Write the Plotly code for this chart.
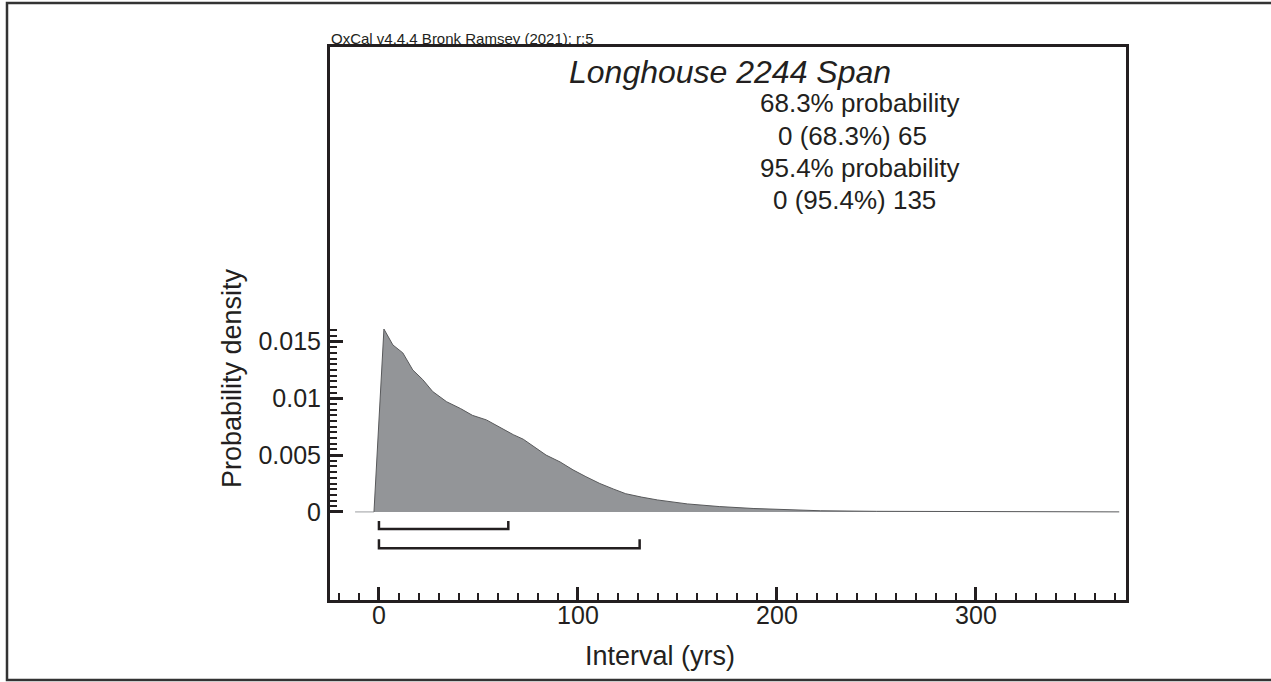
import plotly.graph_objects as go

# ---------------- data ----------------
interval_yrs = [-2.5, 2.5, 7, 12, 17, 22, 27, 34, 41, 47, 54, 61, 67.5, 72.5, 77.5,
                84, 91, 97.5, 104, 111, 118, 124, 132, 140, 155, 171, 188, 205,
                222, 250, 300, 372]
density = [0, 0.0161, 0.0147, 0.0140, 0.0125, 0.01165, 0.0106, 0.0097, 0.0091,
           0.0085, 0.0081, 0.0074, 0.0068, 0.0064, 0.0058, 0.0050, 0.0044,
           0.0037, 0.0031, 0.0025, 0.0020, 0.0016, 0.0013, 0.00105, 0.0007,
           0.00047, 0.0003, 0.0002, 0.0001, 0.00005, 0.00002, 0]
lead_in_x = [-12, -2.5]
lead_in_y = [0, 0]

range_683 = [0, 65]
range_954 = [0, 131]

x_tickvals = [0, 100, 200, 300]
y_tickvals = [0, 0.005, 0.01, 0.015]
y_ticktext = ["0", "0.005", "0.01", "0.015"]
y_minor_vals = [i * 0.0005 for i in range(0, 33)]

title_text = "Longhouse 2244 Span"
info_lines = ["68.3% probability", "0 (68.3%) 65", "95.4% probability", "0 (95.4%) 135"]
credit = "OxCal v4.4.4 Bronk Ramsey (2021); r:5"

# ---------------- layout geometry ----------------
W, H = 1271, 682
L, R, T, B = 330, 1126, 47, 600
INK = "#231f20"
FONT = "Liberation Sans, Arial, Helvetica, sans-serif"

def px(xp):
    return (xp - L) / (R - L)

def py(yp):
    return (B - yp) / (B - T)

fig = go.Figure()

fig.add_trace(go.Scatter(x=lead_in_x, y=lead_in_y, mode="lines",
                         line=dict(color="#bcbec0", width=1.5),
                         hoverinfo="skip", showlegend=False))
fig.add_trace(go.Scatter(x=interval_yrs, y=density, mode="lines",
                         fill="tozeroy", fillcolor="#939598",
                         line=dict(color="#58595b", width=1),
                         showlegend=False))

def bracket(rng, y_bar, y_top):
    lo, hi = rng
    fig.add_trace(go.Scatter(x=[lo, lo, hi, hi], y=[y_top, y_bar, y_bar, y_top],
                             mode="lines", line=dict(color=INK, width=2.5),
                             hoverinfo="skip", showlegend=False))

bracket(range_683, -0.0015, -0.0008)
bracket(range_954, -0.0032, -0.0024)

annotations = [
    dict(text="<i>" + title_text + "</i>", x=px(730), y=py(72),
         font=dict(size=32, family=FONT, color=INK)),
    dict(text=info_lines[0], x=px(859), y=py(103)),
    dict(text=info_lines[1], x=px(852), y=py(136)),
    dict(text=info_lines[2], x=px(859), y=py(168)),
    dict(text=info_lines[3], x=px(854), y=py(200)),
    dict(text=credit, x=px(329), y=py(39), xanchor="left",
         font=dict(size=15, family=FONT, color=INK)),
    dict(text="Probability density", x=px(232), y=py(378), textangle=-90,
         font=dict(size=27, family=FONT, color=INK)),
    dict(text="Interval (yrs)", x=px(660), y=py(656),
         font=dict(size=27, family=FONT, color=INK)),
]
for a in annotations:
    a.setdefault("xanchor", "center")
    a.setdefault("yanchor", "middle")
    a.setdefault("font", dict(size=26, family=FONT, color=INK))
    a.update(xref="paper", yref="paper", showarrow=False)

fig.update_layout(
    width=W, height=H,
    margin=dict(l=L, r=W - R, t=T, b=H - B, pad=0),
    paper_bgcolor="white", plot_bgcolor="white",
    font=dict(family=FONT, color=INK, size=24),
    annotations=annotations,
    shapes=[dict(type="rect", xref="paper", yref="paper",
                 x0=px(7), x1=px(1300), y0=py(680), y1=py(3),
                 line=dict(color="#333333", width=2.5))],
)

fig.update_xaxes(range=[-24.6, 375.4], showgrid=False, zeroline=False,
                 showline=True, linecolor=INK, linewidth=3, mirror=True,
                 ticks="inside", ticklen=13, tickwidth=2.5, tickcolor=INK,
                 tickmode="array", tickvals=x_tickvals, ticklabelstandoff=-9,
                 tickfont=dict(size=25, family=FONT, color=INK),
                 minor=dict(ticks="inside", ticklen=7, tickwidth=2, tickcolor=INK,
                            dtick=10, tick0=0, showgrid=False))
fig.update_yaxes(range=[-0.00776, 0.04094], showgrid=False, zeroline=False,
                 showline=True, linecolor=INK, linewidth=3, mirror=True,
                 ticks="inside", ticklen=13, tickwidth=2.5, tickcolor=INK,
                 tickmode="array", tickvals=y_tickvals, ticktext=y_ticktext,
                 ticklabelstandoff=1,
                 tickfont=dict(size=25, family=FONT, color=INK),
                 minor=dict(ticks="inside", ticklen=7, tickwidth=2, tickcolor=INK,
                            tickmode="array", tickvals=y_minor_vals, showgrid=False))

fig.write_html("out.html")
